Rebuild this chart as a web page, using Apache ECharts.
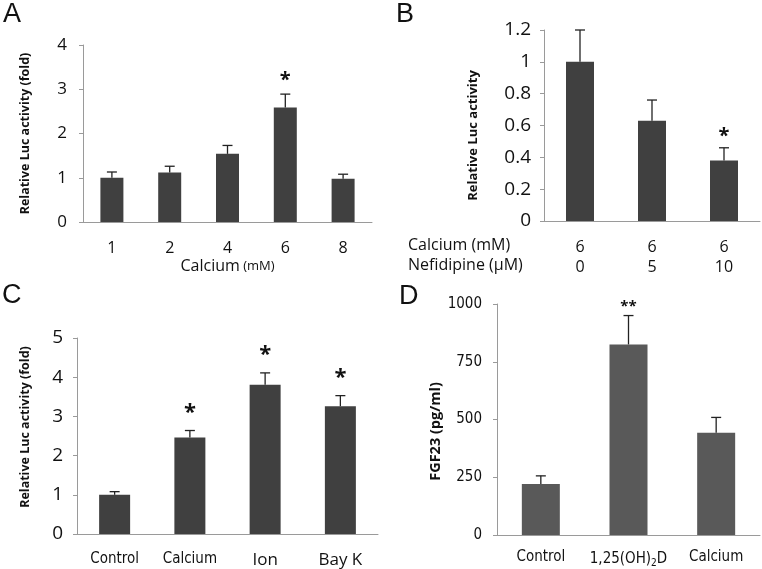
<!DOCTYPE html>
<html>
<head>
<meta charset="utf-8">
<script src="https://cdn.jsdelivr.net/npm/echarts@6/dist/echarts.min.js"></script>
<style>
  html, body { margin: 0; padding: 0; background: #fff; }
  #chart { width: 762px; height: 569px; }
</style>
</head>
<body>
<div id="chart"></div>
<script>
// panel A - calcium dose
var catsA = ['1', '2', '4', '6', '8'];
var valsA = [1.0, 1.12, 1.54, 2.59, 0.98];
var errsA = [0.13, 0.14, 0.19, 0.30, 0.10];
var starsA = ['', '', '', '*', ''];

// panel B - nefidipine
var calciumB = ['6', '6', '6'];
var nefidipineB = ['0', '5', '10'];
var valsB = [1.0, 0.63, 0.38];
var errsB = [0.20, 0.13, 0.08];
var starsB = ['', '', '*'];

// panel C
var catsC = ['Control', 'Calcium', 'Ion', 'Bay K'];
var valsC = [1.0, 2.46, 3.81, 3.26];
var errsC = [0.08, 0.18, 0.30, 0.27];
var starsC = ['', '*', '*', '*'];

// panel D - FGF23
var catsD = ['Control', '1,25(OH)2D', 'Calcium'];
var valsD = [221, 825, 443];
var errsD = [35, 125, 66];
var starsD = ['', '**', ''];

var sans = "'Open Sans', 'DejaVu Sans', sans-serif";
var narrow = "'Liberation Sans Narrow', 'DejaVu Sans Condensed', 'Roboto', sans-serif";
var axisGray = '#9a9a9a';

function errData(vals, errs) {
    return vals.map(function (v, i) { return [i, v, errs[i]]; });
}

// error bar (upper half) + significance mark
function errRender(stars, gap, starSize) {
    return function (params, api) {
        var x = api.value(0), v = api.value(1), e = api.value(2);
        var p0 = api.coord([x, v]);
        var p1 = api.coord([x, v + e]);
        var kids = [
            { type: 'line', shape: { x1: p0[0], y1: p0[1], x2: p1[0], y2: p1[1] }, style: { stroke: '#222', lineWidth: 1.3 } },
            { type: 'line', shape: { x1: p1[0] - 5, y1: p1[1], x2: p1[0] + 5, y2: p1[1] }, style: { stroke: '#222', lineWidth: 1.3 } }
        ];
        var s = stars[params.dataIndex];
        if (s) {
            kids.push({ type: 'text', style: { text: s, x: p1[0], y: p1[1] - gap, align: 'center', verticalAlign: 'middle',
                font: 'bold ' + starSize + 'px ' + sans, fill: '#111' } });
        }
        return { type: 'group', children: kids };
    };
}

function yAx(idx, max, interval, name, nameGap, nameSize, pad, labelSize, labelFont, margin) {
    return {
        type: 'value', gridIndex: idx, min: 0, max: max, interval: interval,
        name: name, nameLocation: 'middle', nameGap: nameGap,
        nameTextStyle: { fontFamily: sans, fontWeight: 'bold', fontSize: nameSize, color: '#111', padding: pad },
        axisLine: { show: true, lineStyle: { color: axisGray } },
        axisTick: { show: true, length: 4, lineStyle: { color: axisGray } },
        axisLabel: { fontFamily: labelFont, fontSize: labelSize, color: '#111', margin: margin, formatter: function (v) { return String(v); } },
        splitLine: { show: false }
    };
}

function xAx(idx, cats, labelOpt) {
    labelOpt.interval = 0;
    return {
        type: 'category', gridIndex: idx, data: cats,
        axisLine: { lineStyle: { color: axisGray } },
        axisTick: { length: 5, lineStyle: { color: axisGray } },
        axisLabel: labelOpt
    };
}

var chart = echarts.init(document.getElementById('chart'));
var option = {
    backgroundColor: '#fff',
    animation: false,
    grid: [
        { left: 83, top: 45, width: 289, height: 177 },
        { left: 544, top: 30, width: 216, height: 191 },
        { left: 77, top: 338, width: 301, height: 197 },
        { left: 497, top: 304, width: 263, height: 231 }
    ],
    xAxis: [
        Object.assign(xAx(0, catsA, { fontFamily: sans, fontSize: 16, color: '#111', margin: 18 }), {
            name: '{a|Calcium} {b|(mM)}', nameLocation: 'middle', nameGap: 36,
            nameTextStyle: { rich: { a: { fontFamily: sans, fontSize: 16, color: '#111' }, b: { fontFamily: sans, fontSize: 13, color: '#111' } } }
        }),
        xAx(1, calciumB.map(function (c, i) { return c + '\n' + nefidipineB[i]; }),
            { fontFamily: sans, fontSize: 16, color: '#111', margin: 16, lineHeight: 20 }),
        xAx(2, catsC, {
            margin: 18,
            formatter: function (v) { return (v === 'Control' || v === 'Calcium') ? '{n|' + v + '}' : '{w|' + v + '}'; },
            rich: { n: { fontFamily: narrow, fontSize: 15, color: '#111' }, w: { fontFamily: sans, fontSize: 17, color: '#111' } }
        }),
        xAx(3, catsD, {
            margin: 15,
            formatter: function (v) { return v === '1,25(OH)2D' ? '{n|1,25(OH)}{s|2}{n|D}' : '{n|' + v + '}'; },
            rich: { n: { fontFamily: narrow, fontSize: 15, color: '#111' }, s: { fontFamily: narrow, fontSize: 10, color: '#111', verticalAlign: 'bottom', padding: [8, 0, 0, 0] } }
        })
    ],
    yAxis: [
        yAx(0, 4, 1, 'Relative Luc activity (fold)', 51, 12.5, [0, 0, 0, 0], 17, sans, 16),
        yAx(1, 1.2, 0.2, 'Relative Luc activity', 64, 13, [0, 20, 0, 0], 19, sans, 13),
        yAx(2, 5, 1, 'Relative Luc activity (fold)', 45, 12.5, [0, 0, 0, 18], 19, sans, 14),
        yAx(3, 1000, 250, 'FGF23 (pg/ml)', 52, 14.5, [0, 24, 0, 0], 15, narrow, 15)
    ],
    series: [
        { type: 'bar', xAxisIndex: 0, yAxisIndex: 0, data: valsA, barWidth: 23, itemStyle: { color: '#404040' } },
        { type: 'bar', xAxisIndex: 1, yAxisIndex: 1, data: valsB, barWidth: 28, itemStyle: { color: '#404040' } },
        { type: 'bar', xAxisIndex: 2, yAxisIndex: 2, data: valsC, barWidth: 31, itemStyle: { color: '#404040' } },
        { type: 'bar', xAxisIndex: 3, yAxisIndex: 3, data: valsD, barWidth: 38, itemStyle: { color: '#595959' } },
        { type: 'custom', xAxisIndex: 0, yAxisIndex: 0, data: errData(valsA, errsA), encode: { x: 0, y: 1 }, renderItem: errRender(starsA, 14, 20), z: 5 },
        { type: 'custom', xAxisIndex: 1, yAxisIndex: 1, data: errData(valsB, errsB), encode: { x: 0, y: 1 }, renderItem: errRender(starsB, 11, 20), z: 5 },
        { type: 'custom', xAxisIndex: 2, yAxisIndex: 2, data: errData(valsC, errsC), encode: { x: 0, y: 1 }, renderItem: errRender(starsC, 18, 22), z: 5 },
        { type: 'custom', xAxisIndex: 3, yAxisIndex: 3, data: errData(valsD, errsD), encode: { x: 0, y: 1 }, renderItem: errRender(starsD, 9, 15), z: 5 }
    ],
    graphic: [
        { type: 'text', left: 3, top: 1, style: { text: 'A', font: '27px "Liberation Sans", Arial, sans-serif', fill: '#111' } },
        { type: 'text', left: 396, top: 1, style: { text: 'B', font: '27px "Liberation Sans", Arial, sans-serif', fill: '#111' } },
        { type: 'text', left: 2, top: 282, style: { text: 'C', font: '27px "Liberation Sans", Arial, sans-serif', fill: '#111' } },
        { type: 'text', left: 399, top: 283, style: { text: 'D', font: '27px "Liberation Sans", Arial, sans-serif', fill: '#111' } },
        { type: 'text', left: 408, top: 237, style: { text: 'Calcium (mM)', font: '16px ' + sans, fill: '#111' } },
        { type: 'text', left: 408, top: 257, style: { text: 'Nefidipine (μM)', font: '16px ' + sans, fill: '#111' } }
    ]
};
chart.setOption(option);
</script>
</body>
</html>
